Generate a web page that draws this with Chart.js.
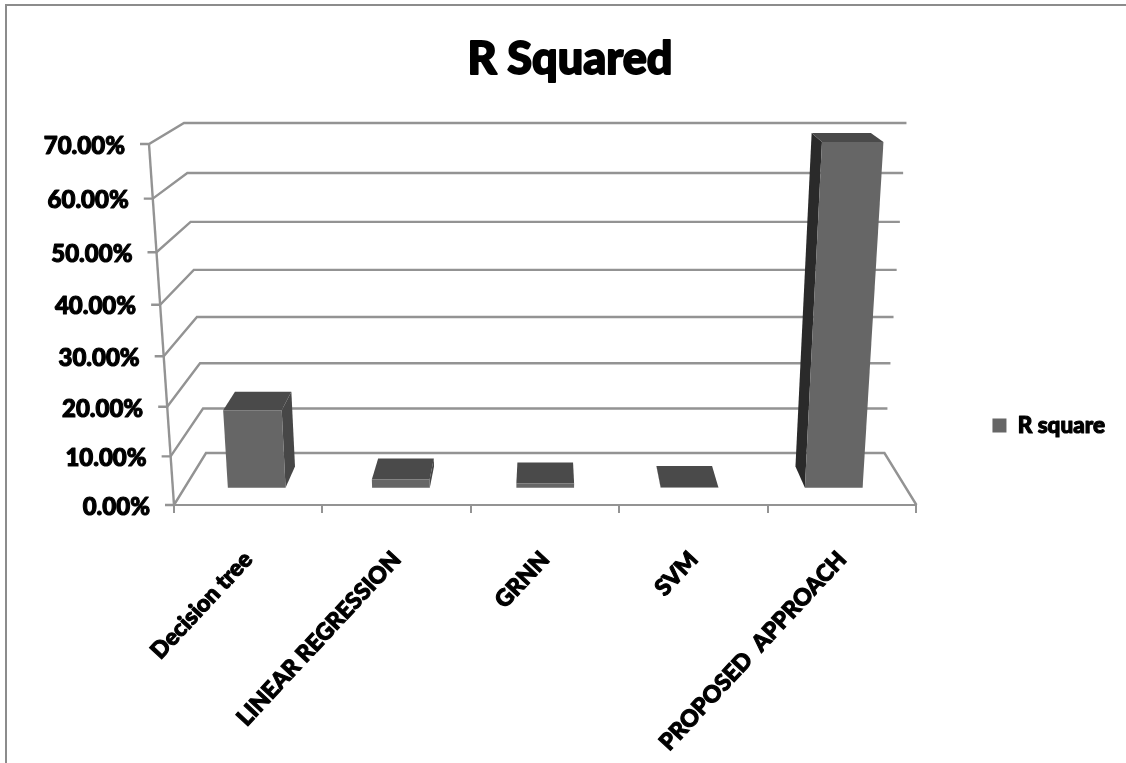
<!DOCTYPE html>
<html>
<head>
<meta charset="utf-8">
<title>R Squared</title>
<script src="https://cdn.jsdelivr.net/npm/chart.js@4"></script>
<style>
	html, body { margin: 0; padding: 0; background: #fff; }
	#frame { position: absolute; left: 5px; top: 4px; width: 1121px; height: 759px; border-left: 2px solid #8c8c8c; border-top: 2px solid #8c8c8c; box-sizing: border-box; }
	canvas { position: absolute; left: 0; top: 0; filter: blur(0.4px); }
</style>
</head>
<body>
<canvas id="chart" width="1126" height="763"></canvas>
<div id="frame"></div>
<script>
var categories = ['Decision tree', 'LINEAR REGRESSION', 'GRNN', 'SVM', 'PROPOSED  APPROACH'];
var r_square = [16.3, 1.8, 0.9, 0.1, 69.1];
var y_ticks = [0, 10, 20, 30, 40, 50, 60, 70];

var FONT = 'Lato, "Open Sans", sans-serif';
var GRID = '#939393';

// fake 3d: px,py on the flat chart area, d is depth (0 front wall, 1 back wall)
function project(chart, px, py, d) {
	var a = chart.chartArea;
	var u = (px - a.left) / a.width;
	var v = (a.bottom - py) / a.height;
	var w = v / (1.07 - 0.07 * v);
	var slant = (25 - 3 * d) * w;
	var left = a.left + 32 * d - slant;
	var right = a.right - 32 * d + slant;
	return {
		x: left + (right - left) * u,
		y: a.bottom - 52 * d - (a.height - 31 * d) * w
	};
}

function poly(ctx, pts, color) {
	ctx.fillStyle = color;
	ctx.beginPath();
	ctx.moveTo(pts[0].x, pts[0].y);
	for (var i = 1; i < pts.length; i++) ctx.lineTo(pts[i].x, pts[i].y);
	ctx.closePath();
	ctx.fill();
}

var walls = {
	id: 'walls',
	beforeDatasetsDraw: function(chart) {
		var ctx = chart.ctx, a = chart.chartArea, y = chart.scales.y;
		ctx.save();
		ctx.strokeStyle = GRID;
		ctx.lineWidth = 2.4;
		y.ticks.forEach(function(t) {
			var py = y.getPixelForValue(t.value);
			var p0 = project(chart, a.left, py, 0);
			var p1 = project(chart, a.left, py, 1);
			var p2 = project(chart, a.right, py, 1);
			ctx.beginPath();
			ctx.moveTo(p0.x - 9, p0.y);
			ctx.lineTo(p0.x, p0.y);
			ctx.lineTo(p1.x, p1.y);
			ctx.lineTo(p2.x, p2.y);
			if (t.value === 0) ctx.lineTo(a.right, a.bottom);
			ctx.stroke();
		});
		var top = project(chart, a.left, a.top, 0);
		ctx.beginPath();
		ctx.moveTo(a.left, a.bottom);
		ctx.lineTo(top.x, top.y);
		ctx.stroke();
		// tick labels follow the slanted axis
		ctx.fillStyle = '#000';
		ctx.strokeStyle = '#000';
		ctx.lineWidth = 1.1;
		ctx.lineJoin = 'round';
		ctx.font = '900 24px ' + FONT;
		ctx.textAlign = 'right';
		ctx.textBaseline = 'middle';
		y.ticks.forEach(function(t) {
			var p = project(chart, a.left, y.getPixelForValue(t.value), 0);
			ctx.fillText(t.label, p.x - 24, p.y + 2);
			ctx.strokeText(t.label, p.x - 24, p.y + 2);
		});
		ctx.restore();
	},
	beforeDatasetDraw: function(chart, args) {
		var ctx = chart.ctx;
		var d0 = 0.33, d1 = 0.74;
		args.meta.data.forEach(function(bar) {
			var l = bar.x - bar.width / 2, r = bar.x + bar.width / 2;
			var fbl = project(chart, l, bar.base, d0), fbr = project(chart, r, bar.base, d0);
			var ftl = project(chart, l, bar.y, d0), ftr = project(chart, r, bar.y, d0);
			var bbl = project(chart, l, bar.base, d1), bbr = project(chart, r, bar.base, d1);
			var btl = project(chart, l, bar.y, d1), btr = project(chart, r, bar.y, d1);
			if (bbl.x < fbl.x) poly(ctx, [fbl, ftl, btl, bbl], '#2a2a2a');
			if (bbr.x > fbr.x) poly(ctx, [fbr, ftr, btr, bbr], '#474747');
			poly(ctx, [ftl, ftr, btr, btl], '#4a4a4a');
			poly(ctx, [fbl, fbr, ftr, ftl], '#666666');
		});
		return false;
	},
	// title and legend have no stroke option, thicken them afterwards
	afterDraw: function(chart) {
		var ctx = chart.ctx, tb = chart.titleBlock, lg = chart.legend;
		ctx.save();
		ctx.strokeStyle = '#000';
		ctx.lineJoin = 'round';
		ctx.textBaseline = 'middle';
		ctx.textAlign = 'center';
		ctx.lineWidth = 1.8;
		ctx.font = tb.options.font.weight + ' ' + tb.options.font.size + 'px ' + FONT;
		ctx.strokeText(tb.options.text, (tb.left + tb.right) / 2, tb.top + tb.options.padding.top + 27);
		var hit = lg.legendHitBoxes[0];
		ctx.textAlign = 'left';
		ctx.lineWidth = 1.1;
		ctx.font = '900 22.5px ' + FONT;
		ctx.strokeText('R square', hit.left + 14 + 11.25, hit.top + hit.height / 2);
		ctx.restore();
	}
};

var myChart = new Chart(document.getElementById('chart').getContext('2d'), {
	type: 'bar',
	data: {
		labels: categories,
		datasets: [{
			label: 'R square',
			data: r_square,
			backgroundColor: '#666666',
			barPercentage: 0.4,
			categoryPercentage: 1
		}]
	},
	plugins: [walls],
	options: {
		responsive: false,
		animation: false,
		layout: { padding: { left: 25, right: 11 } },
		plugins: {
			title: {
				display: true,
				text: 'R Squared',
				color: '#000',
				font: { family: FONT, size: 45, weight: '900', lineHeight: 1.2 },
				padding: { top: 32, bottom: 58 }
			},
			legend: {
				position: 'right',
				title: {
					display: true,
					text: ' ',
					font: { size: 1 },
					padding: { top: 87, bottom: 0 }
				},
				labels: {
					padding: 76,
					boxWidth: 14,
					boxHeight: 14,
					color: '#000',
					font: { family: FONT, size: 22.5, weight: '900' }
				}
			},
			tooltip: { enabled: false }
		},
		scales: {
			x: {
				afterFit: function(s) { s.height = 258; },
				border: { color: GRID, width: 2 },
				grid: { drawOnChartArea: false, color: GRID, lineWidth: 2, tickLength: 8 },
				ticks: {
					autoSkip: false,
					minRotation: 47,
					maxRotation: 47,
					padding: 33,
					color: '#000',
					textStrokeColor: '#000',
					textStrokeWidth: 1.1,
					font: { family: FONT, size: 23, weight: '900' }
				}
			},
			y: {
				min: 0,
				max: 70,
				afterFit: function(s) { s.width = 149; },
				afterBuildTicks: function(s) { s.ticks = y_ticks.map(function(v) { return { value: v }; }); },
				border: { display: false },
				grid: { display: false },
				ticks: {
					display: false,
					callback: function(v) { return v.toFixed(2) + '%'; }
				}
			}
		}
	}
});
</script>
</body>
</html>
